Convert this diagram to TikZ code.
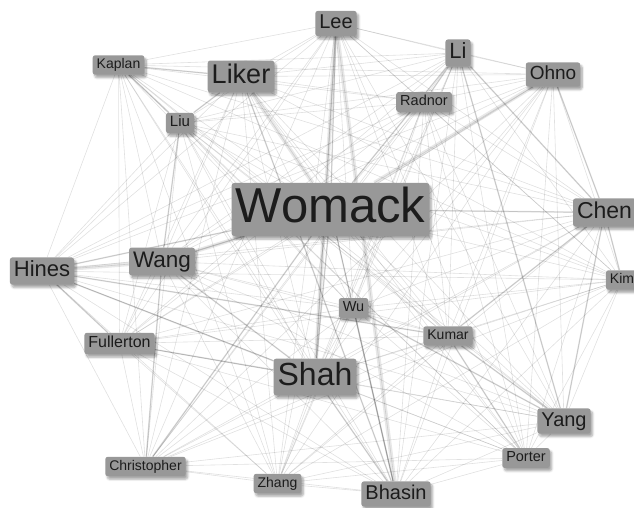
\documentclass[tikz,border=0pt]{standalone}
\usepackage{fontspec}
\setmainfont{Liberation Sans}
\usetikzlibrary{shadows.blur}
\definecolor{boxgray}{RGB}{152,152,152}
\definecolor{inkgray}{RGB}{28,28,28}
\newcommand{\namesize}[1]{\fontsize{#1}{#1}\selectfont}
\pgfdeclarelayer{background}
\pgfsetlayers{background,main}

\begin{document}
\begin{tikzpicture}
      [x = 1pt, y = -1pt,
      person/.style= {
         fill = boxgray,
         text = inkgray,
         rounded corners = 2.5pt,
         inner xsep = 4pt,
         inner ysep = 3pt,
         blur shadow = {shadow blur steps = 6, shadow opacity = 35,
            shadow xshift = 2pt, shadow yshift = -3pt}
      },
      fsize/.style= {
         font = \namesize{#1},
         text height = 0.74*#1 pt,
         text depth = 0.22*#1 pt
      },
      link/.style= {black, opacity = 0.12, line width = 0.6pt},
      midlink/.style= {black, opacity = 0.13, line width = 1.4pt},
      heavylink/.style= {black, opacity = 0.09, line width = 4pt}]

      \useasboundingbox (0, 0) rectangle (634, 508);

      % authors
      \node[person, fsize = 20] (lee) at (336, 23.5) {Lee};
      \node[person, fsize = 22] (li) at (458, 53) {Li};
      \node[person, fsize = 19] (ohno) at (553, 74.5) {Ohno};
      \node[person, fsize = 14] (kaplan) at (118.5, 65) {Kaplan};
      \node[person, fsize = 27] (liker) at (241, 76.5) {Liker};
      \node[person, fsize = 14.5] (radnor) at (424, 102) {Radnor};
      \node[person, fsize = 15] (liu) at (180, 123) {Liu};
      \node[person, fsize = 49] (womack) at (330.5, 209.5) {Womack};
      \node[person, fsize = 23] (chen) at (604.5, 212.5) {Chen};
      \node[person, fsize = 22] (hines) at (42, 271) {Hines};
      \node[person, fsize = 22.5] (wang) at (162, 261.5) {Wang};
      \node[person, fsize = 14] (kim) at (622, 280) {Kim};
      \node[person, fsize = 14.5] (wu) at (353.5, 308) {Wu};
      \node[person, fsize = 14] (kumar) at (448, 336) {Kumar};
      \node[person, fsize = 16] (fullerton) at (119.5, 343.5) {Fullerton};
      \node[person, fsize = 32] (shah) at (315, 377) {Shah};
      \node[person, fsize = 20] (yang) at (564, 421) {Yang};
      \node[person, fsize = 14.5] (porter) at (526, 458) {Porter};
      \node[person, fsize = 14] (christopher) at (145.5, 466.5) {Christopher};
      \node[person, fsize = 14] (zhang) at (277.5, 483.5) {Zhang};
      \node[person, fsize = 20] (bhasin) at (396, 494) {Bhasin};

      % co-authorship links
      \begin{pgfonlayer}{background}
      \foreach \a [count = \i] in {lee, li, ohno, kaplan, liker, radnor, liu,
            womack, chen, hines, wang, kim, wu, kumar, fullerton, shah,
            yang, porter, christopher, zhang, bhasin}
         \foreach \b [count = \j] in {lee, li, ohno, kaplan, liker, radnor, liu,
               womack, chen, hines, wang, kim, wu, kumar, fullerton, shah,
               yang, porter, christopher, zhang, bhasin}
            {\ifnum\j>\i \draw[link] (\a) -- (\b); \fi}

      \foreach \a/\b in {womack/shah, womack/wang, womack/hines, womack/chen,
            womack/bhasin, womack/li, womack/lee, shah/hines, shah/fullerton,
            shah/wang, shah/bhasin, liker/bhasin, hines/fullerton, hines/kumar,
            li/radnor, li/chen, li/yang, ohno/chen, chen/kim, chen/yang,
            chen/kumar, kumar/yang, kumar/porter, wu/bhasin, wu/yang, liu/liker,
            liu/wang, liu/kaplan, kaplan/liker, lee/shah, christopher/wang,
            christopher/womack}
         \draw[midlink] (\a) -- (\b);

      \draw[heavylink] (liker) -- (womack);
      \draw[heavylink] (ohno) -- (womack);
      \draw[heavylink] (hines) -- (wang);
      \draw[heavylink] (wang) -- (womack);
      \draw[heavylink] (lee) -- (shah);
      \draw[heavylink] (lee) -- (bhasin);
      \end{pgfonlayer}

   \end{tikzpicture}
\end{document}
